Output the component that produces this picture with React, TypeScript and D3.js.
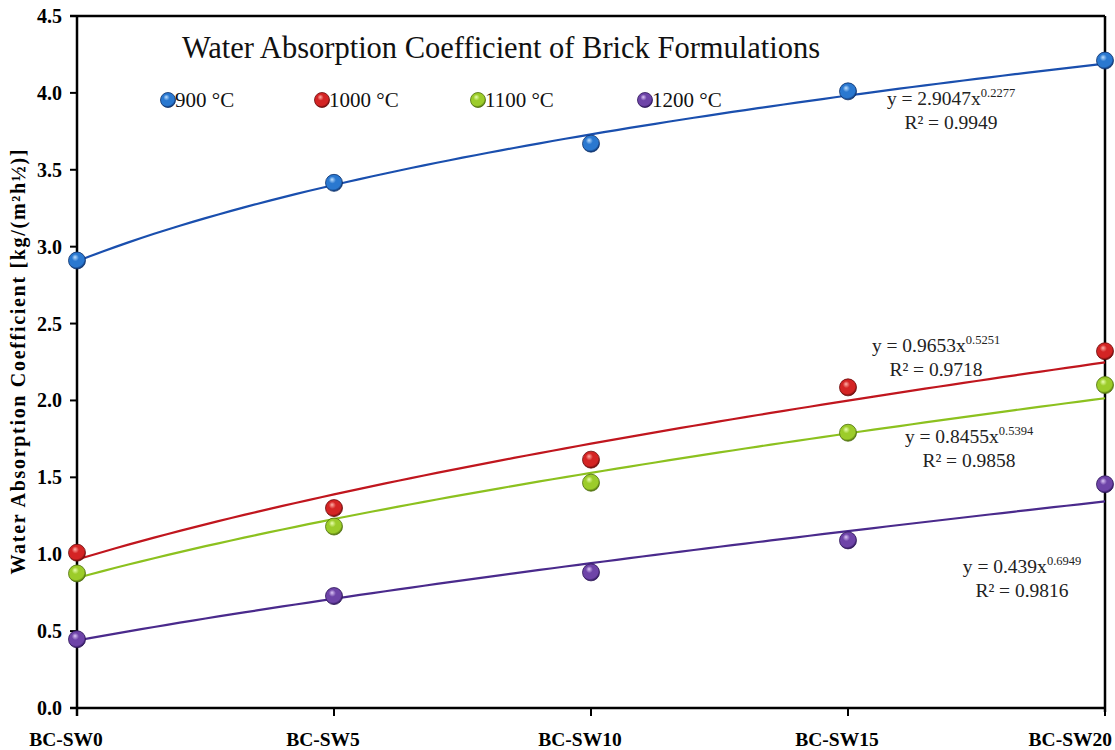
import React from "react";
import * as d3 from "d3";

const categories = ["BC-SW0", "BC-SW5", "BC-SW10", "BC-SW15", "BC-SW20"];
const seriesNames = ["900 °C", "1000 °C", "1100 °C", "1200 °C"];
const values900 = [2.91, 3.415, 3.67, 4.01, 4.21];
const values1000 = [1.01, 1.30, 1.615, 2.085, 2.32];
const values1100 = [0.875, 1.18, 1.465, 1.79, 2.10];
const values1200 = [0.447, 0.728, 0.882, 1.09, 1.455];
const fitA = [2.9047, 0.9653, 0.8455, 0.439];
const fitB = [0.2277, 0.5251, 0.5394, 0.6949];
const fitCoefLabels = ["2.9047", "0.9653", "0.8455", "0.439"];
const fitExpLabels = ["0.2277", "0.5251", "0.5394", "0.6949"];
const r2Labels = ["0.9949", "0.9718", "0.9858", "0.9816"];
const yTicks = [0, 0.5, 1, 1.5, 2, 2.5, 3, 3.5, 4, 4.5];

const allValues = [values900, values1000, values1100, values1200];
const lineColors = ["#1a4fae", "#c0161e", "#8cc11f", "#4a2a8c"];
const baseColors = ["#2a78d0", "#d42424", "#9ccc2a", "#6e44a8"];
const darkColors = ["#0b2f6a", "#6a0a0a", "#4c6e0a", "#2c1458"];
const lightColors = ["#bfe0ff", "#ffb0a8", "#eaffb0", "#dcc6f6"];

// annotation positions
const annoX = [951, 936, 969, 1022];
const annoY = [105, 352, 443, 573];
const legendX = [168, 322, 478, 645];

const W = 1115;
const H = 750;
const left = 77;
const right = 1105;
const top = 16;
const bottom = 708;

export default function App() {
  const x = d3.scalePoint<string>().domain(categories).range([left, right]);
  const xNum = d3.scaleLinear().domain([1, categories.length]).range([left, right]);
  const y = d3.scaleLinear().domain([0, 4.5]).range([bottom, top]);
  const font = "'Liberation Serif', 'Times New Roman', serif";

  const curve = (i: number) => {
    const xs = d3.range(1, 5.0001, 0.05);
    const gen = d3
      .line<number>()
      .x((t) => xNum(t))
      .y((t) => y(fitA[i] * Math.pow(t, fitB[i])));
    return gen(xs) || "";
  };

  return (
    <svg width={W} height={H} style={{ position: "absolute", left: 0, top: 0, background: "#fff" }}>
      <defs>
        {baseColors.map((c, i) => (
          <radialGradient key={i} id={`g${i}`} cx="45%" cy="40%" r="60%" fx="38%" fy="30%">
            <stop offset="0%" stopColor={lightColors[i]} />
            <stop offset="35%" stopColor={c} />
            <stop offset="80%" stopColor={c} />
            <stop offset="100%" stopColor={darkColors[i]} />
          </radialGradient>
        ))}
      </defs>

      {/* frame */}
      <line x1={70} x2={right} y1={top} y2={top} stroke="#000" strokeWidth={2.5} />
      <line x1={right} x2={right} y1={top} y2={bottom + 4} stroke="#000" strokeWidth={2.5} />
      <line x1={left} x2={left} y1={top} y2={bottom + 8} stroke="#000" strokeWidth={2.5} />
      <line x1={70} x2={right} y1={bottom} y2={bottom} stroke="#000" strokeWidth={2.5} />

      {/* y ticks */}
      {yTicks.map((t) => (
        <g key={t}>
          <line x1={70} x2={left} y1={y(t)} y2={y(t)} stroke="#000" strokeWidth={2} />
          <text
            x={62}
            y={y(t)}
            textAnchor="end"
            dominantBaseline="central"
            fontFamily={font}
            fontWeight="bold"
            fontSize={20}
          >
            {t.toFixed(1)}
          </text>
        </g>
      ))}

      {/* x ticks */}
      {categories.map((c, i) => {
        const last = i === categories.length - 1;
        return (
          <g key={c}>
            <line x1={x(c)} x2={x(c)} y1={bottom} y2={bottom + 8} stroke="#000" strokeWidth={2} />
            <text
              x={last ? 1112 : (x(c) as number) - 11}
              y={746}
              textAnchor={last ? "end" : "middle"}
              fontFamily={font}
              fontWeight="bold"
              fontSize={19.5}
            >
              {c}
            </text>
          </g>
        );
      })}

      {/* y axis title */}
      <text
        transform="translate(18,362) rotate(-90)"
        textAnchor="middle"
        dominantBaseline="central"
        fontFamily={font}
        fontWeight="bold"
        fontSize={20}
        textLength={425}
        lengthAdjust="spacing"
      >
        Water Absorption Coefficient [kg/(m²h½)]
      </text>

      {/* title */}
      <text x={501} y={58} textAnchor="middle" fontFamily={font} fontSize={30.5} fill="#111">
        Water Absorption Coefficient of Brick Formulations
      </text>

      {/* trend lines */}
      {allValues.map((_, i) => (
        <path key={i} d={curve(i)} fill="none" stroke={lineColors[i]} strokeWidth={2.2} />
      ))}

      {/* points */}
      {allValues.map((vals, i) =>
        vals.map((v, j) => (
          <circle
            key={`${i}-${j}`}
            cx={x(categories[j])}
            cy={y(v)}
            r={8.5}
            fill={`url(#g${i})`}
            stroke={darkColors[i]}
            strokeWidth={0.8}
          />
        ))
      )}

      {/* legend */}
      {seriesNames.map((n, i) => (
        <g key={n}>
          <circle cx={legendX[i]} cy={100} r={7.5} fill={`url(#g${i})`} stroke={darkColors[i]} strokeWidth={0.8} />
          <text x={legendX[i] + 7} y={100} dominantBaseline="central" fontFamily={font} fontSize={21} fill="#111">
            {n}
          </text>
        </g>
      ))}

      {/* fit annotations */}
      {fitCoefLabels.map((c, i) => (
        <g key={c} fontFamily={font} fill="#222">
          <text x={annoX[i]} y={annoY[i]} textAnchor="middle" fontSize={19.5}>
            {`y = ${c}x`}
            <tspan fontSize={12.5} dy={-8}>
              {fitExpLabels[i]}
            </tspan>
          </text>
          <text x={annoX[i]} y={annoY[i] + 24} textAnchor="middle" fontSize={19.5}>
            R² = {r2Labels[i]}
          </text>
        </g>
      ))}
    </svg>
  );
}
